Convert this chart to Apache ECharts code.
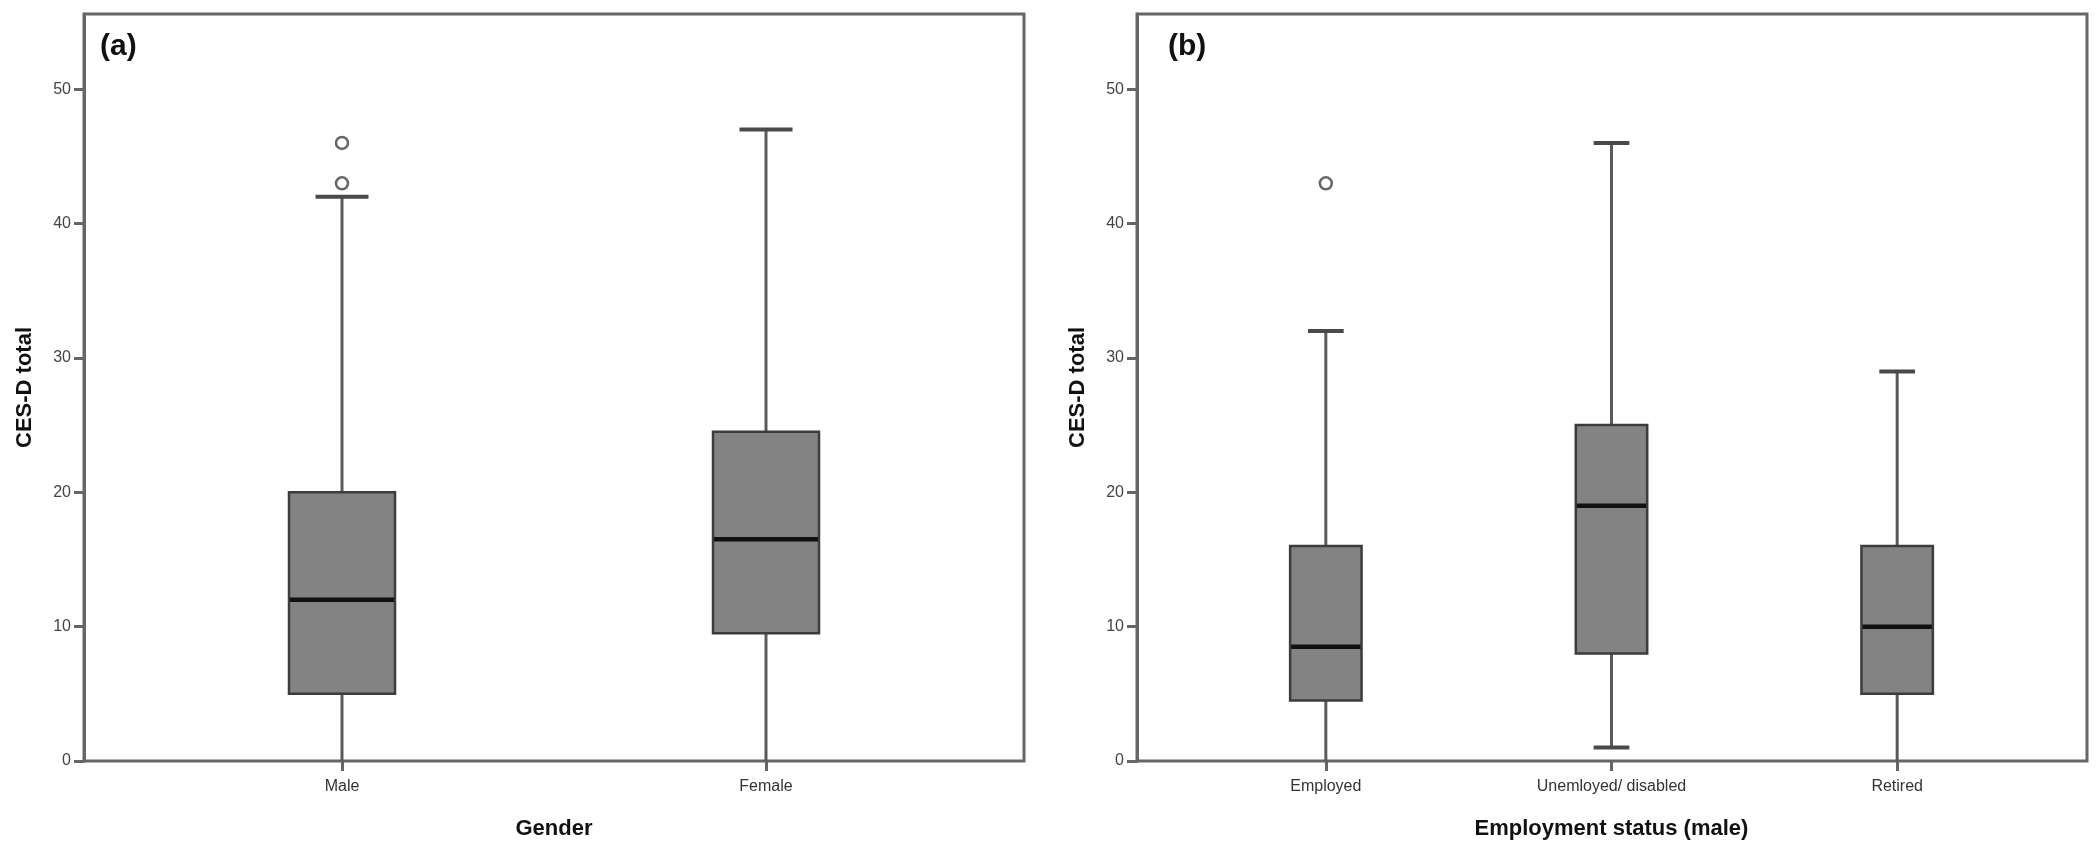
<!DOCTYPE html>
<html>
<head>
<meta charset="utf-8">
<script src="https://cdn.jsdelivr.net/npm/echarts@6/dist/echarts.min.js"></script>
<style>
  html, body { margin: 0; padding: 0; background: #fff; }
  #chart { width: 2100px; height: 856px; }
</style>
</head>
<body>
<div id="chart"></div>
<script>
// panel (a): CES-D by gender
const genderCats = ["Male", "Female"];
// [min, q1, median, q3, max]
const genderStats = [
  [0, 5, 12, 20, 42],
  [0, 9.5, 16.5, 24.5, 47],
];
const genderOutliers = [["Male", 43], ["Male", 46]];

// panel (b): CES-D by employment status (male)
const employCats = ["Employed", "Unemloyed/ disabled", "Retired"];
const employStats = [
  [0, 4.5, 8.5, 16, 32],
  [1, 8, 19, 25, 46],
  [0, 5, 10, 16, 29],
];
const employOutliers = [["Employed", 43]];

const yTicks = [0, 10, 20, 30, 40, 50];
const yMax = 55.6;

const font = "Liberation Sans, Arial, sans-serif";
const frameColor = "#666";

function renderBox(params, api) {
  const x = api.value(0);
  const lo = api.coord([x, api.value(1)]);
  const q1 = api.coord([x, api.value(2)]);
  const med = api.coord([x, api.value(3)]);
  const q3 = api.coord([x, api.value(4)]);
  const hi = api.coord([x, api.value(5)]);
  const bw = api.size([1, 0])[0] * 0.25;
  const cx = lo[0];
  const stem = { stroke: "#5a5a5a", lineWidth: 3 };
  const cap = { stroke: "#4a4a4a", lineWidth: 4 };
  const parts = [
    { type: "line", shape: { x1: cx, y1: hi[1], x2: cx, y2: q3[1] }, style: stem },
    { type: "line", shape: { x1: cx, y1: q1[1], x2: cx, y2: lo[1] }, style: stem },
    { type: "line", shape: { x1: cx - bw / 4, y1: hi[1], x2: cx + bw / 4, y2: hi[1] }, style: cap },
  ];
  // a lower cap sitting on the axis line is hidden by it in the original
  if (api.value(1) > 0) {
    parts.push({ type: "line", shape: { x1: cx - bw / 4, y1: lo[1], x2: cx + bw / 4, y2: lo[1] }, style: cap });
  }
  parts.push(
    {
      type: "rect",
      shape: { x: cx - bw / 2, y: q3[1], width: bw, height: q1[1] - q3[1] },
      style: { fill: "#838383", stroke: "#3c3c3c", lineWidth: 2.5 },
    },
    {
      type: "line",
      shape: { x1: cx - bw / 2 + 1, y1: med[1], x2: cx + bw / 2 - 1, y2: med[1] },
      style: { stroke: "#111", lineWidth: 4.5 },
    }
  );
  return { type: "group", children: parts };
}

function frameY(gridIndex) {
  return {
    gridIndex: gridIndex,
    type: "value",
    min: 0,
    max: yMax,
    name: "CES-D total",
    nameLocation: "middle",
    nameGap: 48,
    nameTextStyle: { fontFamily: font, fontSize: 22, fontWeight: "bold", color: "#111" },
    axisLine: { show: true, lineStyle: { color: frameColor, width: 3 } },
    axisTick: { show: true, customValues: yTicks, length: 10, lineStyle: { color: frameColor, width: 3 } },
    axisLabel: { customValues: yTicks, margin: 13, fontFamily: font, fontSize: 16, color: "#444" },
    splitLine: { show: false },
  };
}

function dataX(gridIndex, cats, name) {
  return {
    gridIndex: gridIndex,
    type: "category",
    data: cats,
    name: name,
    nameLocation: "middle",
    nameGap: 57,
    nameTextStyle: { fontFamily: font, fontSize: 22, fontWeight: "bold", color: "#111" },
    axisLine: { show: false },
    axisTick: { show: true, alignWithLabel: true, length: 10, lineStyle: { color: frameColor, width: 3 } },
    axisLabel: { margin: 18, fontFamily: font, fontSize: 16, color: "#333" },
    splitLine: { show: false },
  };
}

function hiddenY(gridIndex) {
  return { gridIndex: gridIndex, type: "value", min: 0, max: yMax, show: false };
}

function outlierSeries(axisIndex, data) {
  return {
    type: "scatter",
    xAxisIndex: axisIndex,
    yAxisIndex: axisIndex,
    data: data,
    symbol: "circle",
    symbolSize: 12,
    itemStyle: { color: "#fff", borderColor: "#666", borderWidth: 2.5, opacity: 1 },
    z: 5,
  };
}

const chart = echarts.init(document.getElementById("chart"), null, { renderer: "canvas" });

const option = {
  animation: false,
  backgroundColor: "#fff",
  title: [
    { text: "(a)", left: 100, top: 32, padding: 0,
      textStyle: { fontFamily: font, fontSize: 30, fontWeight: "bold", color: "#111" } },
    { text: "(b)", left: 1168, top: 32, padding: 0,
      textStyle: { fontFamily: font, fontSize: 30, fontWeight: "bold", color: "#111" } },
  ],
  grid: [
    { left: 84, right: 1076, top: 14, bottom: 95, show: true, borderColor: frameColor, borderWidth: 3 },
    { left: 130, right: 1122, top: 14, bottom: 95 },
    { left: 1137, right: 13, top: 14, bottom: 95, show: true, borderColor: frameColor, borderWidth: 3 },
    { left: 1183, right: 60, top: 14, bottom: 95 },
  ],
  xAxis: [
    { gridIndex: 0, type: "value", show: false },
    dataX(1, genderCats, "Gender"),
    { gridIndex: 2, type: "value", show: false },
    dataX(3, employCats, "Employment status (male)"),
  ],
  yAxis: [frameY(0), hiddenY(1), frameY(2), hiddenY(3)],
  series: [
    {
      type: "custom",
      xAxisIndex: 1,
      yAxisIndex: 1,
      renderItem: renderBox,
      encode: { x: 0, y: [1, 2, 3, 4, 5] },
      data: genderStats.map((s, i) => [i].concat(s)),
    },
    outlierSeries(1, genderOutliers),
    {
      type: "custom",
      xAxisIndex: 3,
      yAxisIndex: 3,
      renderItem: renderBox,
      encode: { x: 0, y: [1, 2, 3, 4, 5] },
      data: employStats.map((s, i) => [i].concat(s)),
    },
    outlierSeries(3, employOutliers),
  ],
};

chart.setOption(option);
</script>
</body>
</html>
